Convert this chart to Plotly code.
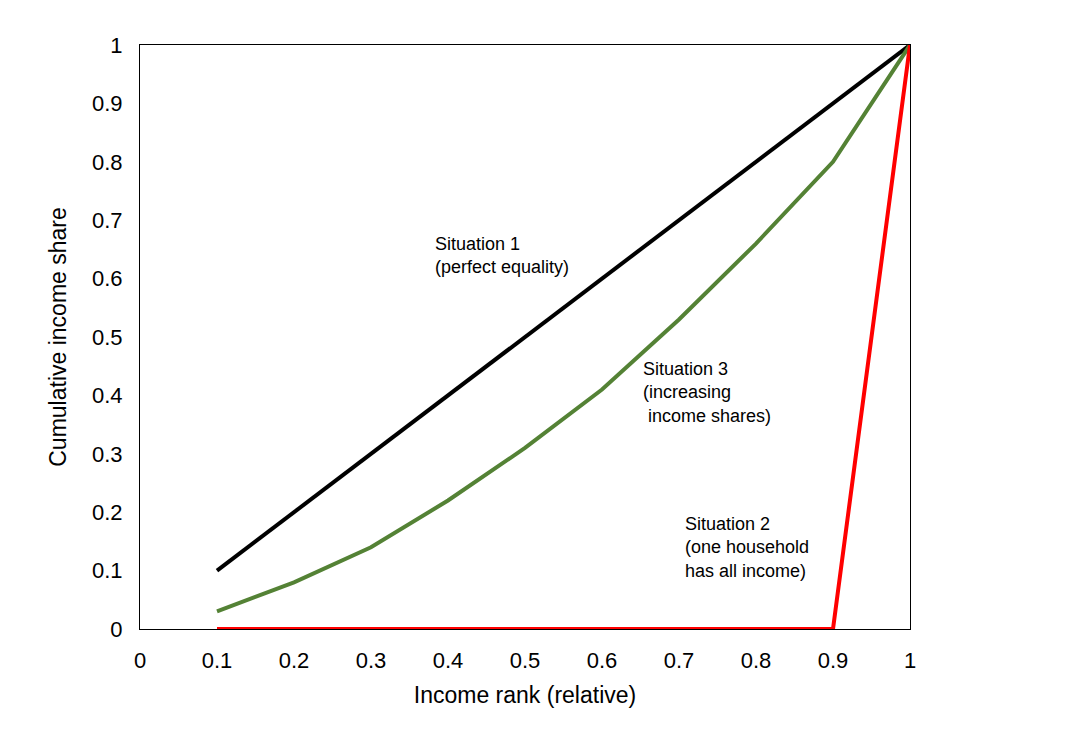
import plotly.graph_objects as go

rank = [0.1, 0.2, 0.3, 0.4, 0.5, 0.6, 0.7, 0.8, 0.9, 1.0]
equal_share = [0.1, 0.2, 0.3, 0.4, 0.5, 0.6, 0.7, 0.8, 0.9, 1.0]
one_household = [0, 0, 0, 0, 0, 0, 0, 0, 0, 1.0]
increasing = [0.03, 0.08, 0.14, 0.22, 0.31, 0.41, 0.53, 0.66, 0.80, 1.0]
ticks = [0, 0.1, 0.2, 0.3, 0.4, 0.5, 0.6, 0.7, 0.8, 0.9, 1]
tick_text = ["0", "0.1", "0.2", "0.3", "0.4", "0.5", "0.6", "0.7", "0.8", "0.9", "1"]

fig = go.Figure()
fig.add_trace(go.Scatter(x=rank, y=equal_share, mode="lines", line=dict(color="black", width=4)))
fig.add_trace(go.Scatter(x=rank, y=increasing, mode="lines", line=dict(color="#548235", width=4)))
fig.add_trace(go.Scatter(x=rank, y=one_household, mode="lines", line=dict(color="#ff0000", width=4)))

notes = [
    (0.38, 0.64, "Situation 1<br>(perfect equality)"),
    (0.65, 0.405, "Situation 3<br>(increasing<br> income shares)"),
    (0.705, 0.14, "Situation 2<br>(one household<br>has all income)"),
]
for x, y, t in notes:
    fig.add_annotation(x=x, y=y, text=t, showarrow=False, xanchor="left", align="left",
                       font=dict(size=18, color="black"))

axis = dict(range=[0, 1], tickvals=ticks, ticktext=tick_text, showgrid=False, zeroline=False,
            showline=True, linecolor="black", mirror=True, ticks="outside", ticklen=12,
            tickcolor="rgba(0,0,0,0)", automargin=False, tickfont=dict(size=22, color="black"))
fig.update_layout(
    width=1072, height=736, showlegend=False,
    paper_bgcolor="white", plot_bgcolor="white",
    font=dict(family="Liberation Sans, Arial, sans-serif", color="black"),
    margin=dict(l=132, r=170, t=37, b=115),
    xaxis=dict(axis, title=dict(text="Income rank (relative)", font=dict(size=23), standoff=14)),
    yaxis=dict(axis, title=dict(text="Cumulative income share", font=dict(size=23), standoff=18)),
)
fig.write_html("out.html")
